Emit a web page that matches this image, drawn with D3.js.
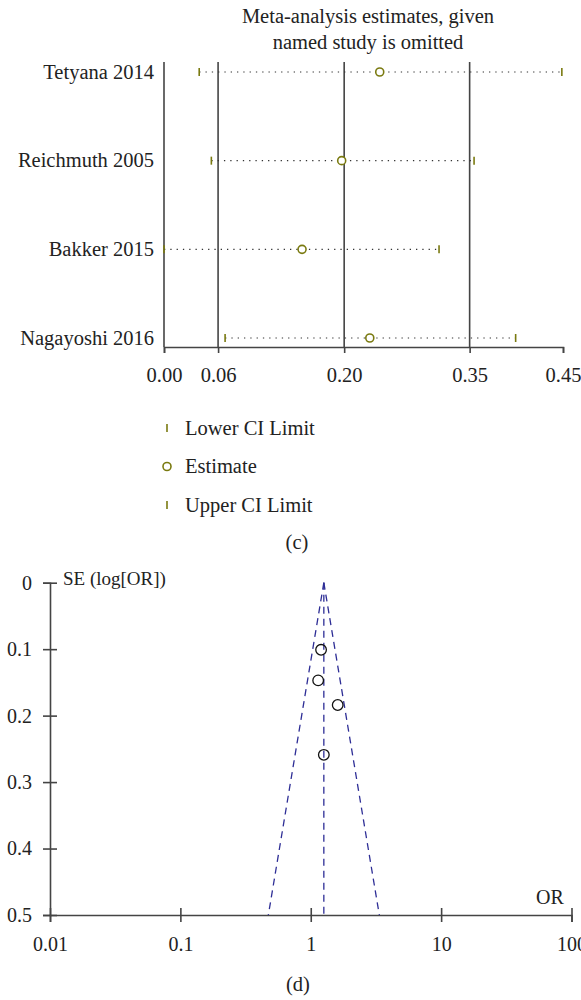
<!DOCTYPE html>
<html><head><meta charset="utf-8">
<script src="https://cdn.jsdelivr.net/npm/d3@7"></script>
<style>
body{margin:0;background:#fff;}
text{font-family:"Liberation Serif","Times New Roman",serif;fill:#222;}
</style></head>
<body>
<svg id="c" width="581" height="1000"></svg>
<script>
// ---------- Panel (c): influence analysis ----------
const studies = ["Tetyana 2014","Reichmuth 2005","Bakker 2015","Nagayoshi 2016"];
const lowerCI = [0.0397, 0.0534, 0.0000, 0.0689];
const estimate = [0.2433, 0.2004, 0.1557, 0.2321];
const upperCI = [0.4487, 0.3497, 0.3102, 0.3966];
const refTickValues = [0.0000, 0.0610, 0.2032, 0.3447, 0.4500];
const refTickLabels = ["0.00","0.06","0.20","0.35","0.45"];
const refLines = [0.0610, 0.2032, 0.3447];
const legendLabels = ["Lower CI Limit","Estimate","Upper CI Limit"];

// ---------- Panel (d): funnel plot ----------
const studyOR = [1.20, 1.14, 1.61, 1.26];
const studySE = [0.101, 0.147, 0.184, 0.259];
const pooledOR = 1.26;
const orTicks = [0.01, 0.1, 1, 10, 100];
const orTickLabels = ["0.01","0.1","1","10","100"];
const seTicks = [0, 0.1, 0.2, 0.3, 0.4, 0.5];
const seTickLabels = ["0","0.1","0.2","0.3","0.4","0.5"];

const svg = d3.select("#c");
const olive = "#7a7a10";
const axisCol = "#444";
const FS = 20.5;

// ===== Panel c =====
const xc = d3.scaleLinear().domain([0, 0.45]).range([164, 563]);
const yc = d3.scalePoint().domain(studies).range([72, 338]);
const cTop = 62, cAxisY = 347;

svg.append("text").attr("x", 368).attr("y", 23).attr("text-anchor","middle")
  .attr("font-size", FS).text("Meta-analysis estimates, given");
svg.append("text").attr("x", 368).attr("y", 49).attr("text-anchor","middle")
  .attr("font-size", FS).text("named study is omitted");

// reference vertical lines
svg.append("g").selectAll("line").data(refLines).join("line")
  .attr("x1", d=>xc(d)).attr("x2", d=>xc(d)).attr("y1", cTop).attr("y2", cAxisY)
  .attr("stroke", axisCol).attr("stroke-width", 1.6);
// left axis line
svg.append("line").attr("x1", xc(0)).attr("x2", xc(0)).attr("y1", cTop).attr("y2", cAxisY)
  .attr("stroke", axisCol).attr("stroke-width", 1.6);

const axC = svg.append("g").attr("transform", `translate(0,${cAxisY})`)
  .call(d3.axisBottom(xc).tickValues(refTickValues).tickSize(6).tickPadding(14)
    .tickFormat((d,i)=>refTickLabels[i]));
axC.select(".domain").attr("stroke", axisCol).attr("stroke-width", 1.6);
axC.selectAll(".tick line").attr("stroke", axisCol).attr("stroke-width", 1.6);
axC.selectAll(".tick text").attr("font-size", FS).attr("fill","#222")
  .attr("font-family",'"Liberation Serif",serif');

// study labels
svg.append("g").selectAll("text").data(studies).join("text")
  .attr("x", 154).attr("y", d=>yc(d)).attr("dy","0.32em").attr("text-anchor","end")
  .attr("font-size", FS).text(d=>d);

const rows = studies.map((s,i)=>({s, lo:lowerCI[i], est:estimate[i], hi:upperCI[i]}));
const gRows = svg.append("g");
gRows.selectAll("line.dot").data(rows).join("line").attr("class","dot")
  .attr("x1", d=>xc(d.lo)).attr("x2", d=>xc(d.hi)).attr("y1", d=>yc(d.s)).attr("y2", d=>yc(d.s))
  .attr("stroke", "#333").attr("stroke-width", 1.2).attr("stroke-dasharray","1.3,5");
gRows.selectAll("line.lo").data(rows).join("line").attr("class","lo")
  .attr("x1", d=>xc(d.lo)).attr("x2", d=>xc(d.lo)).attr("y1", d=>yc(d.s)-4).attr("y2", d=>yc(d.s)+4)
  .attr("stroke", olive).attr("stroke-width", 1.6);
gRows.selectAll("line.hi").data(rows).join("line").attr("class","hi")
  .attr("x1", d=>xc(d.hi)).attr("x2", d=>xc(d.hi)).attr("y1", d=>yc(d.s)-4).attr("y2", d=>yc(d.s)+4)
  .attr("stroke", olive).attr("stroke-width", 1.6);
gRows.selectAll("circle").data(rows).join("circle")
  .attr("cx", d=>xc(d.est)).attr("cy", d=>yc(d.s)).attr("r", 4)
  .attr("fill","#fff").attr("stroke", olive).attr("stroke-width", 1.6);

// legend
const legY = d3.scalePoint().domain(legendLabels).range([428, 505]);
const leg = svg.append("g").selectAll("g").data(legendLabels).join("g")
  .attr("transform", d=>`translate(167,${legY(d)})`);
leg.each(function(d,i){
  const g = d3.select(this);
  if (i === 1) g.append("circle").attr("r", 4).attr("fill","#fff").attr("stroke", olive).attr("stroke-width",1.6);
  else g.append("line").attr("y1",-4).attr("y2",4).attr("stroke", olive).attr("stroke-width",1.6);
  g.append("text").attr("x", 18).attr("dy","0.32em").attr("font-size", FS).text(d);
});
svg.append("text").attr("x", 297).attr("y", 549).attr("text-anchor","middle").attr("font-size",FS).text("(c)");

// ===== Panel d =====
const xd = d3.scaleLog().domain([0.01, 100]).range([50, 571.5]);
const yd = d3.scaleLinear().domain([0, 0.5]).range([582.7, 915]);

const axY1 = svg.append("g").attr("transform","translate(50,0)")
  .call(d3.axisLeft(yd).tickValues(seTicks).tickSize(7).tickPadding(11).tickFormat((d,i)=>seTickLabels[i]));
const axY2 = svg.append("g").attr("transform","translate(50,0)")
  .call(d3.axisRight(yd).tickValues(seTicks).tickSize(7).tickFormat(""));
axY2.select(".domain").remove();
const axX1 = svg.append("g").attr("transform",`translate(0,${yd(0.5)})`)
  .call(d3.axisBottom(xd).tickValues(orTicks).tickSize(7).tickPadding(15).tickFormat((d,i)=>orTickLabels[i]));
const axX2 = svg.append("g").attr("transform",`translate(0,${yd(0.5)})`)
  .call(d3.axisTop(xd).tickValues(orTicks).tickSize(7).tickFormat(""));
axX2.select(".domain").remove();
[axY1,axY2,axX1,axX2].forEach(a=>{
  a.selectAll(".domain").attr("stroke", axisCol).attr("stroke-width",1.6);
  a.selectAll(".tick line").attr("stroke", axisCol).attr("stroke-width",1.6);
  a.selectAll(".tick text").attr("font-size",20).attr("fill","#222").attr("font-family",'"Liberation Serif",serif');
});

svg.append("text").attr("x", 63).attr("y", 585).attr("font-size", 19).text("SE (log[OR])");
svg.append("text").attr("x", 550).attr("y", 904).attr("text-anchor","middle").attr("font-size", 20).text("OR");

// funnel
const lp = Math.log(pooledOR);
const funnelCol = "#2e2e96";
const funnelLines = [
  [[pooledOR,0],[Math.exp(lp-1.96*0.5),0.5]],
  [[pooledOR,0],[Math.exp(lp+1.96*0.5),0.5]],
  [[pooledOR,0],[pooledOR,0.5]]
];
const lineGen = d3.line().x(d=>xd(d[0])).y(d=>yd(d[1]));
svg.append("g").selectAll("path").data(funnelLines).join("path")
  .attr("d", lineGen).attr("fill","none").attr("stroke", funnelCol)
  .attr("stroke-width",1.3).attr("stroke-dasharray","7,5");

svg.append("g").selectAll("circle").data(studyOR.map((o,i)=>[o,studySE[i]])).join("circle")
  .attr("cx", d=>xd(d[0])).attr("cy", d=>yd(d[1])).attr("r", 5.3)
  .attr("fill","none").attr("stroke","#111").attr("stroke-width",1.3);

svg.append("text").attr("x", 298).attr("y", 991).attr("text-anchor","middle").attr("font-size",FS).text("(d)");
</script>
</body></html>
